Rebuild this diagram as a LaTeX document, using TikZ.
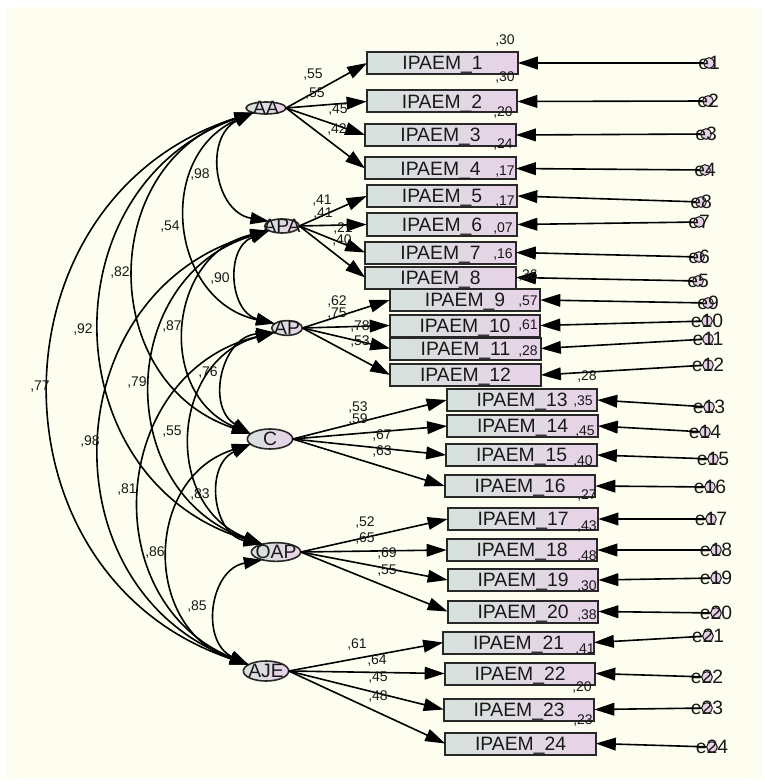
\documentclass[tikz,border=0pt]{standalone}
\usepackage{fontspec}
\setmainfont{Liberation Sans}
\usetikzlibrary{shapes.geometric,arrows.meta}
\definecolor{bgcream}{RGB}{254,254,240}
\definecolor{boxleft}{RGB}{214,226,220}
\definecolor{boxright}{RGB}{232,210,232}
\definecolor{edgegray}{RGB}{40,40,40}
\definecolor{txtgray}{RGB}{25,25,25}

\begin{document}
\begin{tikzpicture}[y=0.75pt, x=0.75pt, yscale=-1, inner sep=0pt, outer sep=0pt,
  big/.style={font=\fontsize{14.5}{15}\selectfont, text=txtgray},
  est/.style={font=\fontsize{10.5}{11}\selectfont, text=txtgray},
  obs/.style={big, text depth=0pt, draw=edgegray, line width=1.5pt, left color=boxleft, right color=boxright, minimum width=113pt, minimum height=16.5pt},
  lat/.style={ellipse, draw=edgegray, line width=1.2pt, left color=boxleft, right color=boxright},
  err/.style={circle, draw=edgegray, line width=0.8pt, fill=boxright, minimum size=8pt},
  pth/.style={draw=black, line width=1.2pt, -{Triangle[length=15pt,width=9.5pt]}},
  cov/.style={draw=black, line width=1.2pt, {Triangle[length=14pt,width=9pt]}-{Triangle[length=14pt,width=9pt]}, bend left=72, looseness=1.3}]
\useasboundingbox (0,0) rectangle (764,784);
\path[fill=bgcream] (6,7) rectangle (762,778);

\node[lat, minimum width=30pt, minimum height=9pt, label={[big]center:AA}] (AA) at (266,108) {};
\node[lat, minimum width=26pt, minimum height=10.5pt, label={[big]center:APA}] (APA) at (282,226) {};
\node[lat, minimum width=23pt, minimum height=11pt, label={[big]center:AP}] (AP) at (287,328) {};
\node[lat, minimum width=34pt, minimum height=15pt, label={[big]center:C}] (C) at (270,439) {};
\node[lat, minimum width=37pt, minimum height=14pt, label={[big]center:OAP}] (OAP) at (276,552) {};
\node[lat, minimum width=34pt, minimum height=15pt, label={[big]center:AJE}] (AJE) at (266,671) {};

\node[obs] (b1) at (442.5,63) {IPAEM\_1};
\node[obs] (b2) at (442,101.5) {IPAEM\_2};
\node[obs] (b3) at (440.5,135) {IPAEM\_3};
\node[obs] (b4) at (440.5,168.5) {IPAEM\_4};
\node[obs] (b5) at (442,196) {IPAEM\_5};
\node[obs] (b6) at (442,224.5) {IPAEM\_6};
\node[obs] (b7) at (440.5,252.5) {IPAEM\_7};
\node[obs] (b8) at (440.5,277.5) {IPAEM\_8};
\node[obs] (b9) at (465,300) {IPAEM\_9};
\node[obs] (b10) at (465,325.5) {IPAEM\_10};
\node[obs] (b11) at (465.5,348.5) {IPAEM\_11};
\node[obs] (b12) at (465.5,375) {IPAEM\_12};
\node[obs] (b13) at (522,400) {IPAEM\_13};
\node[obs] (b14) at (522.5,426) {IPAEM\_14};
\node[obs] (b15) at (521.5,455) {IPAEM\_15};
\node[obs] (b16) at (520,486) {IPAEM\_16};
\node[obs] (b17) at (523,519) {IPAEM\_17};
\node[obs] (b18) at (522,550) {IPAEM\_18};
\node[obs] (b19) at (523,580) {IPAEM\_19};
\node[obs] (b20) at (523,611.5) {IPAEM\_20};
\node[obs] (b21) at (518.5,642.5) {IPAEM\_21};
\node[obs] (b22) at (520,673.5) {IPAEM\_22};
\node[obs] (b23) at (519,709.5) {IPAEM\_23};
\node[obs] (b24) at (520.5,743.5) {IPAEM\_24};

\node[err, label={[big]center:e1}] (e1) at (709,63) {};
\node[err, label={[big]center:e2}] (e2) at (708,101) {};
\node[err, label={[big]center:e3}] (e3) at (706,134) {};
\node[err, label={[big]center:e4}] (e4) at (705,170) {};
\node[err, label={[big]center:e8}] (e8) at (701,202) {};
\node[err, label={[big]center:e7}] (e7) at (699,222) {};
\node[err, label={[big]center:e6}] (e6) at (699,257) {};
\node[err, label={[big]center:e5}] (e5) at (698,281) {};
\node[err, label={[big]center:e9}] (e9) at (708,303) {};
\node[err, label={[big]center:e10}] (e10) at (707,321) {};
\node[err, label={[big]center:e11}] (e11) at (708,339) {};
\node[err, label={[big]center:e12}] (e12) at (708,365) {};
\node[err, label={[big]center:e13}] (e13) at (709,407) {};
\node[err, label={[big]center:e14}] (e14) at (705,432) {};
\node[err, label={[big]center:e15}] (e15) at (713,459) {};
\node[err, label={[big]center:e16}] (e16) at (710,487) {};
\node[err, label={[big]center:e17}] (e17) at (711,519) {};
\node[err, label={[big]center:e18}] (e18) at (716,550) {};
\node[err, label={[big]center:e19}] (e19) at (716,578) {};
\node[err, label={[big]center:e20}] (e20) at (716,613) {};
\node[err, label={[big]center:e21}] (e21) at (708,636) {};
\node[err, label={[big]center:e22}] (e22) at (707,677) {};
\node[err, label={[big]center:e23}] (e23) at (707,708) {};
\node[err, label={[big]center:e24}] (e24) at (712,747) {};

\draw[pth] (e1) -- (b1.east);
\draw[pth] (e2) -- (b2.east);
\draw[pth] (e3) -- (b3.east);
\draw[pth] (e4) -- (b4.east);
\draw[pth] (e8) -- (b5.east);
\draw[pth] (e7) -- (b6.east);
\draw[pth] (e6) -- (b7.east);
\draw[pth] (e5) -- (b8.east);
\draw[pth] (e9) -- (b9.east);
\draw[pth] (e10) -- (b10.east);
\draw[pth] (e11) -- (b11.east);
\draw[pth] (e12) -- (b12.east);
\draw[pth] (e13) -- (b13.east);
\draw[pth] (e14) -- (b14.east);
\draw[pth] (e15) -- (b15.east);
\draw[pth] (e16) -- (b16.east);
\draw[pth] (e17) -- (b17.east);
\draw[pth] (e18) -- (b18.east);
\draw[pth] (e19) -- (b19.east);
\draw[pth] (e20) -- (b20.east);
\draw[pth] (e21) -- (b21.east);
\draw[pth] (e22) -- (b22.east);
\draw[pth] (e23) -- (b23.east);
\draw[pth] (e24) -- (b24.east);

\draw[pth] (AA.east) -- (b1.west);
\draw[pth] (AA.east) -- (b2.west);
\draw[pth] (AA.east) -- (b3.west);
\draw[pth] (AA.east) -- (b4.west);
\draw[pth] (APA.east) -- (b5.west);
\draw[pth] (APA.east) -- (b6.west);
\draw[pth] (APA.east) -- (b7.west);
\draw[pth] (APA.east) -- (b8.west);
\draw[pth] (AP.east) -- (b9.west);
\draw[pth] (AP.east) -- (b10.west);
\draw[pth] (AP.east) -- (b11.west);
\draw[pth] (AP.east) -- (b12.west);
\draw[pth] (C.east) -- (b13.west);
\draw[pth] (C.east) -- (b14.west);
\draw[pth] (C.east) -- (b15.west);
\draw[pth] (C.east) -- (b16.west);
\draw[pth] (OAP.east) -- (b17.west);
\draw[pth] (OAP.east) -- (b18.west);
\draw[pth] (OAP.east) -- (b19.west);
\draw[pth] (OAP.east) -- (b20.west);
\draw[pth] (AJE.east) -- (b21.west);
\draw[pth] (AJE.east) -- (b22.west);
\draw[pth] (AJE.east) -- (b23.west);
\draw[pth] (AJE.east) -- (b24.west);

\draw[cov] (AA.200) to (APA.160);
\draw[cov] (AA.200) to (AP.160);
\draw[cov] (AA.200) to (C.165);
\draw[cov] (AA.200) to (OAP.150);
\draw[cov] (AA.200) to (AJE.160);
\draw[cov] (APA.200) to (AP.160);
\draw[cov] (APA.200) to (C.165);
\draw[cov] (APA.200) to (OAP.150);
\draw[cov] (APA.200) to (AJE.160);
\draw[cov] (AP.200) to (C.165);
\draw[cov] (AP.200) to (OAP.150);
\draw[cov] (AP.200) to (AJE.160);
\draw[cov] (C.195) to (OAP.150);
\draw[cov] (C.195) to (AJE.160);
\draw[cov] (OAP.210) to (AJE.160);

\node[est] (w1) at (313,75) {,55};
\node[est] (w2) at (315,94) {,55};
\node[est] (w3) at (338,110) {,45};
\node[est] (w4) at (337,130) {,42};
\node[est] (w5) at (322,201) {,41};
\node[est] (w6) at (323,214) {,41};
\node[est] (w7) at (343,229) {,21};
\node[est] (w8) at (342,241) {,40};
\node[est] (w9) at (337,302) {,62};
\node[est] (w10) at (337,314) {,75};
\node[est] (w11) at (360,327) {,78};
\node[est] (w12) at (360,342) {,53};
\node[est] (w13) at (358,408) {,53};
\node[est] (w14) at (358,420) {,59};
\node[est] (w15) at (382,436) {,67};
\node[est] (w16) at (382,452) {,63};
\node[est] (w17) at (365,523) {,52};
\node[est] (w18) at (365,539) {,65};
\node[est] (w19) at (387,554) {,69};
\node[est] (w20) at (387,571) {,55};
\node[est] (w21) at (357,644) {,61};
\node[est] (w22) at (377,660) {,64};
\node[est] (w23) at (378,678) {,45};
\node[est] (w24) at (378,696) {,48};

\node[est] (r1) at (505,41) {,30};
\node[est] (r2) at (505,78) {,30};
\node[est] (r3) at (503,113) {,20};
\node[est] (r4) at (503,145) {,24};
\node[est] (r5) at (505,172) {,17};
\node[est] (r6) at (505,202) {,17};
\node[est] (r7) at (503,229) {,07};
\node[est] (r8) at (503,255) {,16};
\node[est] (r9) at (528,276) {,36};
\node[est] (r10) at (528,302) {,57};
\node[est] (r11) at (528,326) {,61};
\node[est] (r12) at (528,352) {,28};
\node[est] (r13) at (587,377) {,28};
\node[est] (r14) at (583,402) {,35};
\node[est] (r15) at (585,432) {,45};
\node[est] (r16) at (583,462) {,40};
\node[est] (r17) at (587,496) {,27};
\node[est] (r18) at (587,527) {,43};
\node[est] (r19) at (587,557) {,48};
\node[est] (r20) at (587,587) {,30};
\node[est] (r21) at (587,616) {,38};
\node[est] (r22) at (585,650) {,41};
\node[est] (r23) at (582,687) {,20};
\node[est] (r24) at (583,720) {,23};

\node[est] (k1) at (200,175) {,98};
\node[est] (k2) at (170,227) {,54};
\node[est] (k3) at (120,273) {,82};
\node[est] (k4) at (83,330) {,92};
\node[est] (k5) at (40,387) {,77};
\node[est] (k6) at (220,279) {,90};
\node[est] (k7) at (172,327) {,87};
\node[est] (k8) at (137,383) {,79};
\node[est] (k9) at (90,442) {,98};
\node[est] (k10) at (208,373) {,76};
\node[est] (k11) at (172,432) {,55};
\node[est] (k12) at (127,490) {,81};
\node[est] (k13) at (200,495) {,83};
\node[est] (k14) at (155,553) {,86};
\node[est] (k15) at (197,607) {,85};
\end{tikzpicture}
\end{document}
